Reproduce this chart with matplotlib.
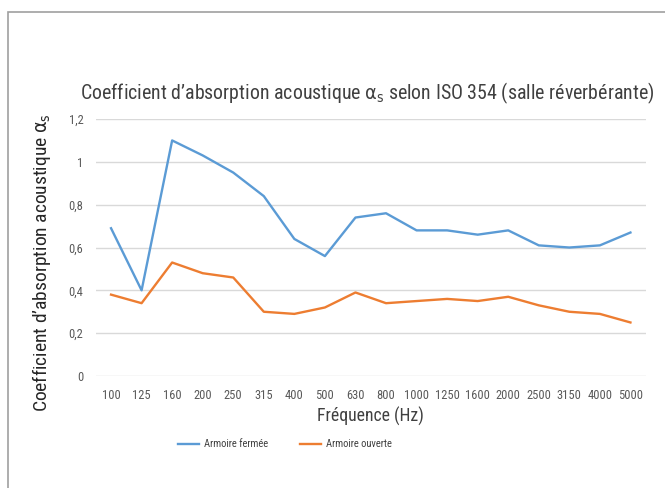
import matplotlib.pyplot as plt
from matplotlib.patches import Rectangle

plt.rcParams['font.family'] = ['Roboto Condensed', 'DejaVu Sans']
plt.rcParams['font.stretch'] = 'condensed'
plt.rcParams['mathtext.fontset'] = 'custom'
plt.rcParams['mathtext.rm'] = 'DejaVu Sans:stretch=condensed'
plt.rcParams['mathtext.it'] = 'DejaVu Sans:stretch=condensed'

frequences = ['100', '125', '160', '200', '250', '315', '400', '500', '630', '800',
              '1000', '1250', '1600', '2000', '2500', '3150', '4000', '5000']
fermee = [0.69, 0.40, 1.10, 1.03, 0.95, 0.84, 0.64, 0.56, 0.74, 0.76,
          0.68, 0.68, 0.66, 0.68, 0.61, 0.60, 0.61, 0.67]
ouverte = [0.38, 0.34, 0.53, 0.48, 0.46, 0.30, 0.29, 0.32, 0.39, 0.34,
           0.35, 0.36, 0.35, 0.37, 0.33, 0.30, 0.29, 0.25]
yticks = [0, 0.2, 0.4, 0.6, 0.8, 1, 1.2]
ylabels = ['0', '0,2', '0,4', '0,6', '0,8', '1', '1,2']

fig = plt.figure(figsize=(6.65, 4.88), dpi=100)
ax = fig.add_axes([0.144, 0.2295, 0.827, 0.5266])

x = range(len(frequences))
ax.plot(x, fermee, color='#5B9BD5', lw=1.7, label='Armoire fermée', solid_joinstyle='round')
ax.plot(x, ouverte, color='#ED7D31', lw=1.7, label='Armoire ouverte', solid_joinstyle='round')

ax.set_xlim(-0.5, len(frequences) - 0.5)
ax.set_ylim(0, 1.2)
ax.set_xticks(list(x))
ax.set_xticklabels(frequences)
ax.set_yticks(yticks)
ax.set_yticklabels(ylabels)
ax.tick_params(length=0, labelsize=9, colors='#595959', pad=9)
ax.grid(axis='y', color='#D9D9D9', lw=1)
ax.set_axisbelow(True)
for s in ax.spines.values():
    s.set_visible(False)

ax.set_title(r'Coefficient d’absorption acoustique $\alpha_s$ selon ISO 354 (salle réverbérante)',
             fontsize=14.3, color='#404040', pad=14, x=0.493)
ax.set_xlabel('Fréquence (Hz)', fontsize=12.7, color='#404040', labelpad=4)
ax.set_ylabel(r'Coefficient d’absorption acoustique $\alpha_s$', fontsize=14, color='#262626')
ax.yaxis.set_label_coords(-0.077, 0.44)

ax.legend(loc='upper center', bbox_to_anchor=(0.344, -0.21), ncol=2, frameon=False,
          fontsize=7.6, handlelength=2.0, handletextpad=0.5, columnspacing=3.0,
          labelcolor='#404040')

# cadre gris autour du graphique
fig.patches.append(Rectangle((8 / 665, -0.1), 1.2, 1 - 12 / 488 + 0.1, transform=fig.transFigure,
                             fill=False, edgecolor='#A0A0A0', lw=1.2))

fig.savefig('out.png', dpi=100)
